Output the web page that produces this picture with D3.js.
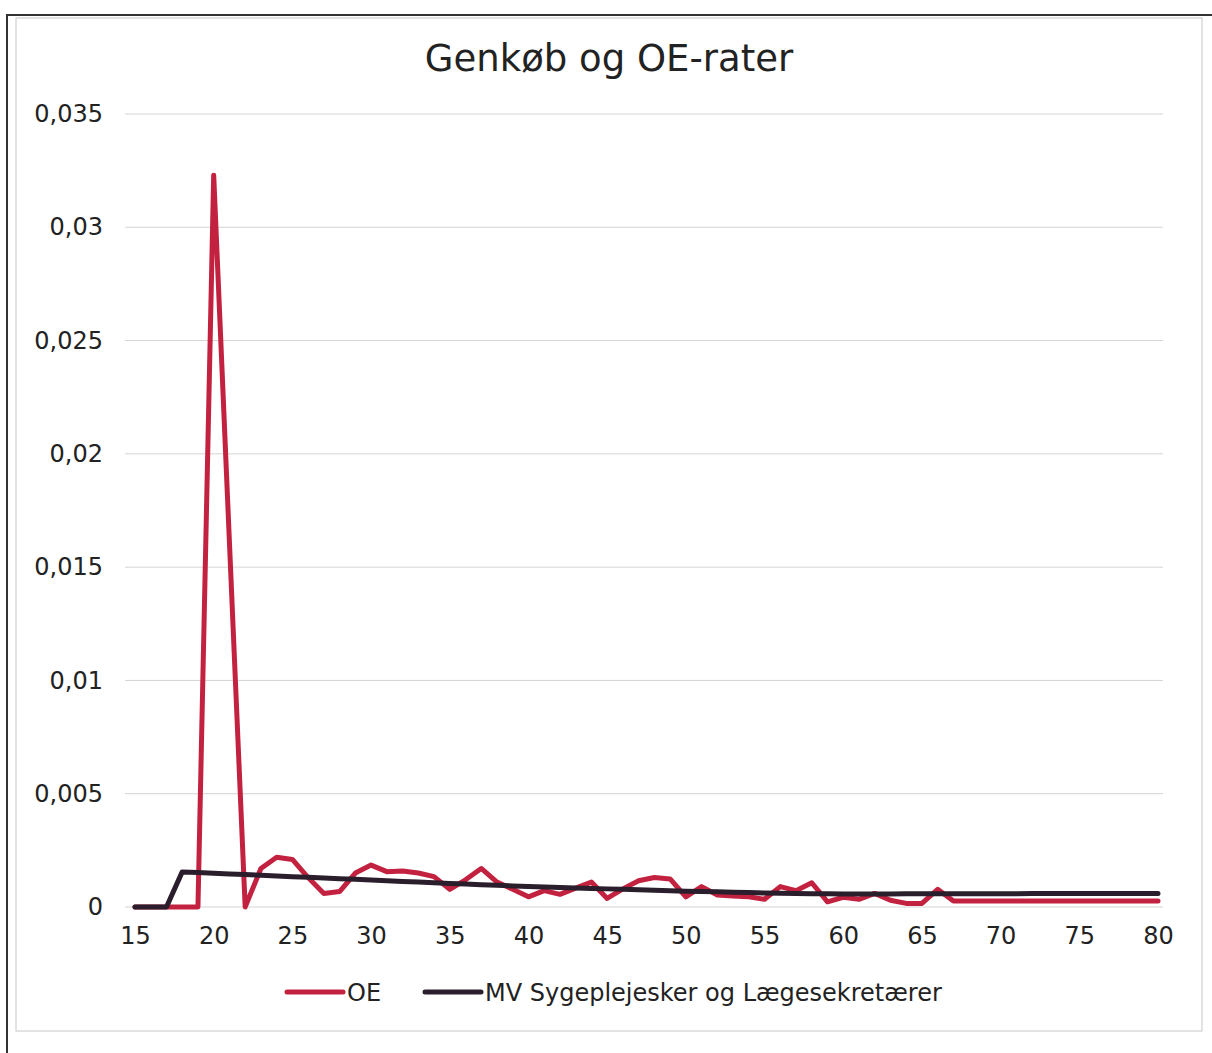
<!DOCTYPE html>
<html>
<head>
<meta charset="utf-8">
<title>Genkøb og OE-rater</title>
<style>
  body { margin: 0; background: #fff; }
  text { font-family: "DejaVu Sans", Verdana, sans-serif; }
</style>
</head>
<body>
<svg width="1212" height="1053"></svg>
<script src="https://d3js.org/d3.v7.min.js"></script>
<script>
// ages 15..80
var ages = d3.range(15, 81);

var oe = [0, 0, 0, 0, 0, 0.0323, 0.0161, 0,
  0.0017, 0.0022, 0.0021, 0.0013, 0.0006, 0.00068, 0.0015, 0.00185,
  0.00156, 0.00159, 0.0015, 0.00134, 0.00078, 0.0012, 0.0017, 0.0011, 0.00078, 0.00045,
  0.00072, 0.00056, 0.00083, 0.0011, 0.00038, 0.0008, 0.00116, 0.0013, 0.00124, 0.00045,
  0.0009, 0.00053, 0.00049, 0.00045, 0.00034, 0.0009, 0.00072, 0.00107, 0.00023, 0.00043,
  0.00034, 0.0006, 0.0003, 0.00016, 0.00016, 0.00078,
  0.00026, 0.00026, 0.00026, 0.00026, 0.00026, 0.00026, 0.00026,
  0.00026, 0.00026, 0.00026, 0.00026, 0.00026, 0.00026, 0.00026];

var mv = [0, 0, 0,
  0.00155, 0.00152, 0.00149, 0.00146, 0.00143, 0.0014, 0.00137, 0.00134, 0.00131, 0.00128, 0.00125, 0.00122, 0.00119,
  0.00116, 0.00113, 0.0011, 0.00107, 0.00104, 0.00101, 0.00098, 0.00096, 0.00093, 0.00091,
  0.00088, 0.00086, 0.00084, 0.00082, 0.0008, 0.00078, 0.00076, 0.00074, 0.00072, 0.0007,
  0.00068, 0.00067, 0.00065, 0.00064, 0.00062, 0.00061, 0.0006, 0.00059, 0.00058, 0.00057,
  0.00057, 0.00057, 0.00057, 0.00058, 0.00058, 0.00058, 0.00058, 0.00059, 0.00059, 0.00059,
  0.00059, 0.0006, 0.0006, 0.0006, 0.0006, 0.0006, 0.0006, 0.0006, 0.0006, 0.0006];

var yTicks = [0, 0.005, 0.01, 0.015, 0.02, 0.025, 0.03, 0.035];
var xTicks = [15, 20, 25, 30, 35, 40, 45, 50, 55, 60, 65, 70, 75, 80];

var seriesNames = ["OE", "MV Sygeplejesker og Lægesekretærer"];
var seriesColors = ["#c2223f", "#2a1e2c"];

var svg = d3.select("svg");

// frame
svg.append("rect")
    .attr("x", 16).attr("y", 18)
    .attr("width", 1186).attr("height", 1013)
    .attr("fill", "none")
    .attr("stroke", "#c8c8c8")
    .attr("stroke-width", 1);
svg.append("path")
    .attr("d", "M7,1053V15H1212")
    .attr("fill", "none")
    .attr("stroke", "#333")
    .attr("stroke-width", 2);

var x = d3.scaleLinear().domain([15, 80]).range([135, 1158]);
var y = d3.scaleLinear().domain([0, 0.035]).range([907, 114]);

// gridlines
svg.append("g")
  .selectAll("line")
  .data(yTicks)
  .enter().append("line")
    .attr("x1", 125).attr("x2", 1163)
    .attr("y1", function(d) { return y(d); })
    .attr("y2", function(d) { return y(d); })
    .attr("stroke", "#d4d4d4")
    .attr("stroke-width", 1);

// y axis labels
var yAxis = svg.append("g")
    .attr("transform", "translate(111,0)")
    .call(d3.axisLeft(y).tickValues(yTicks).tickSize(0).tickPadding(8)
      .tickFormat(function(d) { return String(+d.toFixed(3)).replace(".", ","); }));
yAxis.select(".domain").remove();
yAxis.selectAll("text")
    .attr("font-size", 24)
    .attr("fill", "#222")
    .style("font-family", '"DejaVu Sans", Verdana, sans-serif');

// x axis labels
var xAxis = svg.append("g")
    .attr("transform", "translate(0,920)")
    .call(d3.axisBottom(x).tickValues(xTicks).tickSize(0).tickPadding(7)
      .tickFormat(d3.format("d")));
xAxis.select(".domain").remove();
xAxis.selectAll("text")
    .attr("font-size", 24)
    .attr("fill", "#222")
    .style("font-family", '"DejaVu Sans", Verdana, sans-serif');

var line = d3.line()
    .x(function(d, i) { return x(ages[i]); })
    .y(function(d) { return y(d); });

[oe, mv].forEach(function(s, k) {
  svg.append("path")
      .datum(s)
      .attr("fill", "none")
      .attr("stroke", seriesColors[k])
      .attr("stroke-width", 5)
      .attr("stroke-linejoin", "round")
      .attr("stroke-linecap", "round")
      .attr("d", line);
});

// title
svg.append("text")
    .attr("x", 609).attr("y", 71)
    .attr("text-anchor", "middle")
    .attr("font-size", 37)
    .attr("fill", "#222")
    .text("Genkøb og OE-rater");

// legend
var legendX = [287, 425];
var leg = svg.append("g").selectAll("g")
    .data(seriesNames)
    .enter().append("g")
    .attr("transform", function(d, i) { return "translate(" + legendX[i] + ",992)"; });
leg.append("line")
    .attr("x1", 0).attr("x2", 56)
    .attr("stroke", function(d, i) { return seriesColors[i]; })
    .attr("stroke-width", 5)
    .attr("stroke-linecap", "round");
leg.append("text")
    .attr("x", 60).attr("y", 9)
    .attr("font-size", 24)
    .attr("fill", "#222")
    .text(function(d) { return d; });
</script>
</body>
</html>
